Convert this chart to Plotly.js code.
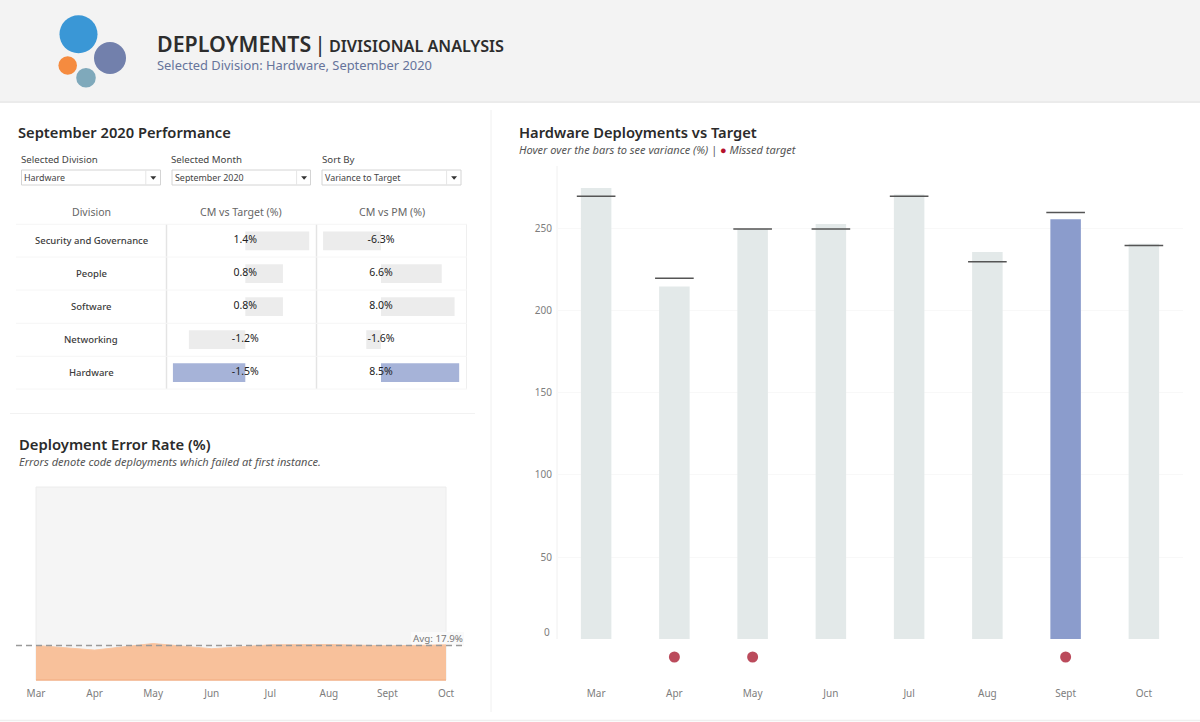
<!DOCTYPE html>
<html><head><meta charset="utf-8">
<script src="https://cdn.plot.ly/plotly-3.0.1.min.js"></script>
<style>html,body{margin:0;padding:0;background:#fff}#c{width:1200px;height:722px}</style>
</head><body><div id="c"></div>
<script>
const months = ['Mar','Apr','May','Jun','Jul','Aug','Sept','Oct'];
const deployments = [275,215,250,253,271,236,256,241];
const targets = [270,220,250,250,270,230,260,240];
const missedMonths = ['Apr','May','Sept'];
const missedMarks = [0,0,0];
const selectedMonth = 'Sept';
const errorRate = [17.9,15.5,18.9,16.2,18.2,18.4,17.7,18.2];
const avgError = 17.9;
const divisions = ['Security and Governance','People','Software','Networking','Hardware'];
const cmVsTarget = [1.36,0.8,0.8,-1.2,-1.54];
const cmVsPm = [-6.3,6.6,8.0,-1.6,8.5];
const selectedDivision = 'Hardware';
const yTicks = [50,100,150,200,250];
const yZero = 0;

const W=1200,H=722;
const FONT='"Noto Sans", sans-serif';
const px=x=>x/W, py=y=>1-y/H;
const dom=(a,b)=>[a/W,b/W], domY=(top,bot)=>[1-bot/H,1-top/H];
const pct=v=>v.toFixed(1)+'%';

function txt(x,y,text,size,color,opt={}){
  return Object.assign({xref:'paper',yref:'paper',x:px(x),y:py(y),text,showarrow:false,xanchor:'left',yanchor:'middle',
    font:{family:FONT,size,color,weight:opt.weight||400,style:opt.style||'normal'},borderpad:0,align:'left'},opt.extra||{});
}
function rect(x0,y0,x1,y1,fill,line,lw){return {type:'rect',xref:'paper',yref:'paper',x0:px(x0),x1:px(x1),y0:py(y0),y1:py(y1),
  fillcolor:fill||'rgba(0,0,0,0)',line:{color:line||'rgba(0,0,0,0)',width:lw===undefined?(line?1:0):lw},layer:'below'};}
function hline(x0,x1,y,c,w,layer){return {type:'line',xref:'paper',yref:'paper',x0:px(x0),x1:px(x1),y0:py(y),y1:py(y),line:{color:c,width:w||1},layer:layer||'below'};}
function vline(x,y0,y1,c,w){return {type:'line',xref:'paper',yref:'paper',x0:px(x),x1:px(x),y0:py(y0),y1:py(y1),line:{color:c,width:w||1},layer:'below'};}
function circ(cx,cy,r,c){return {type:'circle',xref:'paper',yref:'paper',x0:px(cx-r),x1:px(cx+r),y0:py(cy-r),y1:py(cy+r),fillcolor:c,line:{width:0},layer:'above'};}

const shapes=[
  rect(0,0,1200,101,'#f3f3f3'),
  hline(0,1200,102,'#e4e4e4',1.5),
  hline(0,1200,720.5,'#efefef',1.5),
  vline(491,110,712,'#f0f0f0'),
  hline(10,475,413.5,'#f2f2f2'),
  circ(78.5,34.3,19,'#3a97d6'),circ(110,58,16,'#7280ac'),circ(67.7,65.5,9.3,'#f58b3f'),circ(86,77.7,9.8,'#7fa9bb'),
  rect(36,487,446,680,'#f5f5f5','#ececec',1),
  rect(411,632,464,645.5,'#fafafa'),
  vline(557,166,639,'#f0f0f0'),
  vline(166.5,224,389,'#e4e4e4',1.5),vline(316.5,224,389,'#e4e4e4',1.5),vline(466.5,224,389,'#efefef',1),
  hline(36,446,680,'#f5b288',1.5,'above'),
];
[224.3,257,290,323.3,356.3,389].forEach(y=>shapes.push(hline(16,467,y,'#f6f6f6',1)));
[[21.5,160.5,145.8],[172,310.5,296.6],[322,461,446.6]].forEach(b=>{
  shapes.push(Object.assign(rect(b[0],170,b[1],185,'#ffffff','#d4d4d4',1),{layer:'above'}));
  shapes.push(Object.assign(vline(b[2],170,185,'#e6e6e6',1),{layer:'above'}));
  const a=b[2]+7.5;
  shapes.push({type:'path',xref:'paper',yref:'paper',layer:'above',fillcolor:'#333',line:{width:0},
    path:`M ${px(a-3)} ${py(176.3)} L ${px(a+3)} ${py(176.3)} L ${px(a)} ${py(179.8)} Z`});
});
shapes.push({type:'line',xref:'paper',x0:px(16),x1:px(463),yref:'y3',y0:avgError,y1:avgError,line:{color:'#9a9a9a',width:1.5,dash:'6px,4px'},layer:'above'});

const annotations=[
  txt(156,44,'DEPLOYMENTS',21.4,'#2d2d2d',{weight:600}),
  txt(312.5,43,'|',22,'#2d2d2d',{}),
  txt(328,45.5,'DIVISIONAL ANALYSIS',16.2,'#2d2d2d',{weight:600}),
  txt(156,65.5,'Selected Division: Hardware, September 2020',12.9,'#66749b'),
  txt(17,132.5,'September 2020 Performance',14.7,'#2b2b2b',{weight:600}),
  txt(518,132.5,'Hardware Deployments vs Target',14.7,'#2b2b2b',{weight:600}),
  txt(518,149.5,'Hover over the bars to see variance (%) | <span style="color:#b5122c">●</span> Missed target',11,'#555',{style:'italic'}),
  txt(18,444.5,'Deployment Error Rate (%)',14.8,'#2b2b2b',{weight:600}),
  txt(18,461.5,'Errors denote code deployments which failed at first instance.',11.1,'#555',{style:'italic'}),
  txt(20,159.5,'Selected Division',9.7,'#444'),
  txt(170,159.5,'Selected Month',9.7,'#444'),
  txt(321,159.5,'Sort By',9.7,'#444'),
  txt(23,177.5,'Hardware',8.9,'#444'),
  txt(174,177.5,'September 2020',8.9,'#444'),
  txt(324,177.5,'Variance to Target',8.9,'#444'),
  txt(91,212,'Division',10.5,'#666',{extra:{xanchor:'center'}}),
  txt(241,212,'CM vs Target (%)',10.6,'#666',{extra:{xanchor:'center'}}),
  txt(392,212,'CM vs PM (%)',10.6,'#666',{extra:{xanchor:'center'}}),
  txt(463.5,638.5,'Avg: '+avgError+'%',9.8,'#777',{extra:{xanchor:'right'}}),
  {xref:'x',yref:'y',x:-0.5,y:yZero,text:String(yZero),showarrow:false,xanchor:'right',yanchor:'middle',xshift:-5,yshift:7,font:{family:FONT,size:10,color:'#7d7d7d'}},
];
divisions.forEach((d,i)=>annotations.push(Object.assign(txt(91,0,d,9.5,'#3c3c3c',{weight:500,extra:{xanchor:'center'}}),{yref:'y4',y:d})));

const colorsFor=(cats,sel,base,hi)=>cats.map(c=>c===sel?hi:base);
const tableBar=(vals,xa,ya)=>({type:'bar',orientation:'h',y:divisions,x:vals,xaxis:xa,yaxis:ya,width:0.57,
  marker:{color:colorsFor(divisions,selectedDivision,'#ececec','#a6b3d8')},hoverinfo:'skip'});
const tableText=(vals,xa,ya)=>({type:'scatter',mode:'text',y:divisions,x:vals.map(()=>0),text:vals.map(pct),textposition:'middle center',
  textfont:{family:FONT,size:10.5,color:'#222'},xaxis:xa,yaxis:ya,hoverinfo:'skip'});

const data=[
  {type:'bar',x:months,y:deployments,xaxis:'x',yaxis:'y',width:0.39,marker:{color:colorsFor(months,selectedMonth,'#e3e9e9','#8b9ccc')}},
  {type:'scatter',mode:'markers',x:months,y:targets,xaxis:'x',yaxis:'y',marker:{symbol:'line-ew',size:27.6,color:'#555',line:{color:'#555',width:1.5}}},
  {type:'scatter',mode:'markers',x:missedMonths,y:missedMarks,xaxis:'x',yaxis:'y2',marker:{size:11,color:'#bb4b5c'}},
  {type:'scatter',mode:'lines',x:months,y:errorRate,xaxis:'x3',yaxis:'y3',fill:'tozeroy',fillcolor:'#f8c19b',line:{color:'#f9c6a3',width:1}},
  tableBar(cmVsTarget,'x4','y4'),tableText(cmVsTarget,'x4','y4'),
  tableBar(cmVsPm,'x5','y5'),tableText(cmVsPm,'x5','y5'),
];
const tick={family:FONT,size:10,color:'#7d7d7d'};
const off={showgrid:false,zeroline:false,showline:false,showticklabels:false,ticks:''};
const layout={
  width:W,height:H,margin:{l:0,r:0,t:0,b:0,pad:0},paper_bgcolor:'#fff',plot_bgcolor:'rgba(0,0,0,0)',showlegend:false,barmode:'overlay',
  font:{family:FONT},shapes,annotations,
  xaxis:{domain:dom(557,1183),type:'category',categoryorder:'array',categoryarray:months,range:[-0.5,7.5],anchor:'y2',showgrid:false,zeroline:false,showline:false,ticks:'outside',ticklen:4,tickcolor:'rgba(0,0,0,0)',tickfont:tick},
  yaxis:{domain:domY(166,639),range:[0,288.4],anchor:'x',tickvals:yTicks,showgrid:true,gridcolor:'#f8f8f8',zeroline:false,showline:false,ticks:'outside',ticklen:2,tickcolor:'rgba(0,0,0,0)',tickfont:tick},
  yaxis2:Object.assign({domain:domY(645,680),range:[-23,12],anchor:'x'},off),
  xaxis3:{domain:dom(36,446),type:'category',categoryorder:'array',categoryarray:months,range:[0,7],anchor:'y3',showgrid:false,zeroline:false,showline:false,ticks:'outside',ticklen:4,tickcolor:'rgba(0,0,0,0)',tickfont:tick},
  yaxis3:Object.assign({domain:domY(487,680),range:[0,100],anchor:'x3'},off),
  xaxis4:Object.assign({domain:dom(167,316),range:[-1.666,1.504],anchor:'y4'},off),
  yaxis4:Object.assign({domain:domY(224.3,389),type:'category',categoryorder:'array',categoryarray:divisions,range:[4.5,-0.5],anchor:'x4'},off),
  xaxis5:Object.assign({domain:dom(317,467),range:[-6.96,9.35],anchor:'y5'},off),
  yaxis5:Object.assign({domain:domY(224.3,389),type:'category',categoryorder:'array',categoryarray:divisions,range:[4.5,-0.5],anchor:'x5'},off),
};
Plotly.newPlot('c',data,layout,{displayModeBar:false,responsive:false});
</script></body></html>
